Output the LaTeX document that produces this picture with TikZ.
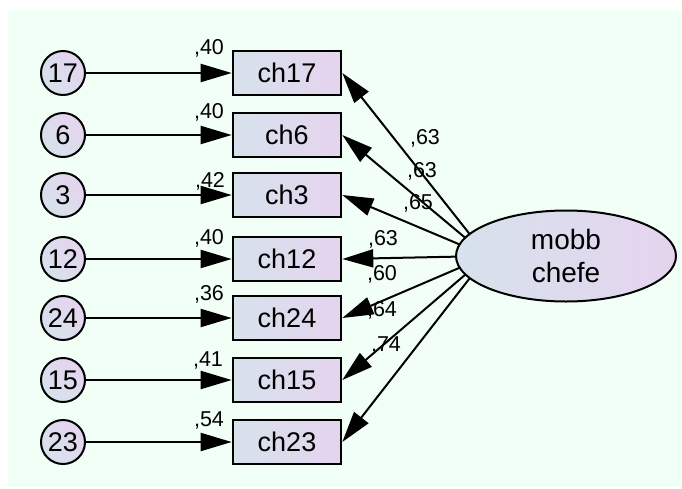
\documentclass[tikz,border=0pt]{standalone}
\usepackage{fontspec}
\setmainfont{Liberation Sans}
\usetikzlibrary{arrows.meta,shapes.geometric}
\definecolor{bg}{RGB}{242,255,247}
\definecolor{fillL}{RGB}{214,226,236}
\definecolor{fillR}{RGB}{229,212,238}
\begin{document}
\begin{tikzpicture}[x=1pt,y=-1pt,
  obs/.style={draw, line width=2.6pt, minimum width=108pt, minimum height=44pt, inner sep=0pt,
    left color=fillL, right color=fillR, font=\fontsize{27}{30}\selectfont},
  err/.style={circle, draw, line width=2pt, minimum size=44pt, inner sep=0pt,
    left color=fillL, right color=fillR, shading angle=135, font=\fontsize{27}{30}\selectfont},
  lat/.style={ellipse, draw, line width=2pt, minimum width=220pt, minimum height=91pt, inner sep=0pt,
    left color=fillL, right color=fillR, align=center, font=\fontsize{28}{33}\selectfont},
  conn/.style={line width=2pt, -{Triangle[length=31pt,width=18pt]}},
  lbl/.style={inner sep=0pt, font=\fontsize{21.5}{23}\selectfont}
]
\useasboundingbox (0,0) rectangle (682,488);
\fill[bg] (8,10) rectangle (682,487);

% observed variables
\node[obs] (ch17) at (287,73) {ch17};
\node[obs] (ch6)  at (287,135) {ch6};
\node[obs] (ch3)  at (287,195) {ch3};
\node[obs] (ch12) at (287,259) {ch12};
\node[obs] (ch24) at (287,318) {ch24};
\node[obs] (ch15) at (287,380) {ch15};
\node[obs] (ch23) at (287,442) {ch23};

% error terms
\node[err] (e17) at (63,73) {17};
\node[err] (e6)  at (63,135) {6};
\node[err] (e3)  at (63,195) {3};
\node[err] (e12) at (63,259) {12};
\node[err] (e24) at (63,318) {24};
\node[err] (e15) at (63,380) {15};
\node[err] (e23) at (63,442) {23};

% error arrows
\draw[conn] (e17) -- (ch17);
\draw[conn] (e6) -- (ch6);
\draw[conn] (e3) -- (ch3);
\draw[conn] (e12) -- (ch12);
\draw[conn] (e24) -- (ch24);
\draw[conn] (e15) -- (ch15);
\draw[conn] (e23) -- (ch23);

% loadings (radiate from a point inside the ellipse, which is drawn on top)
\coordinate (Fc) at (487,256);
\draw[conn] (Fc) -- (ch17.east);
\draw[conn] (Fc) -- (ch6.east);
\draw[conn] (Fc) -- (ch3.east);
\draw[conn] (Fc) -- (ch12.east);
\draw[conn] (Fc) -- (ch24.east);
\draw[conn] (Fc) -- (ch15.east);
\draw[conn] (Fc) -- (ch23.east);

% latent
\node[lat] (F) at (566,256) {mobb\\chefe};

% R2 labels
\node[lbl] (r17) at (209,48) {,40};
\node[lbl] (r6)  at (209,112) {,40};
\node[lbl] (r3)  at (210,181) {,42};
\node[lbl] (r12) at (209,238) {,40};
\node[lbl] (r24) at (209,294) {,36};
\node[lbl] (r15) at (208,360) {,41};
\node[lbl] (r23) at (209,420) {,54};

% loading labels
\node[lbl] (w17) at (425,138) {,63};
\node[lbl] (w6)  at (422,171) {,63};
\node[lbl] (w3)  at (418,203) {,65};
\node[lbl] (w12) at (383,239) {,63};
\node[lbl] (w24) at (382,274) {,60};
\node[lbl] (w15) at (382,310) {,64};
\node[lbl] (w23) at (386,345) {,74};
\end{tikzpicture}
\end{document}
